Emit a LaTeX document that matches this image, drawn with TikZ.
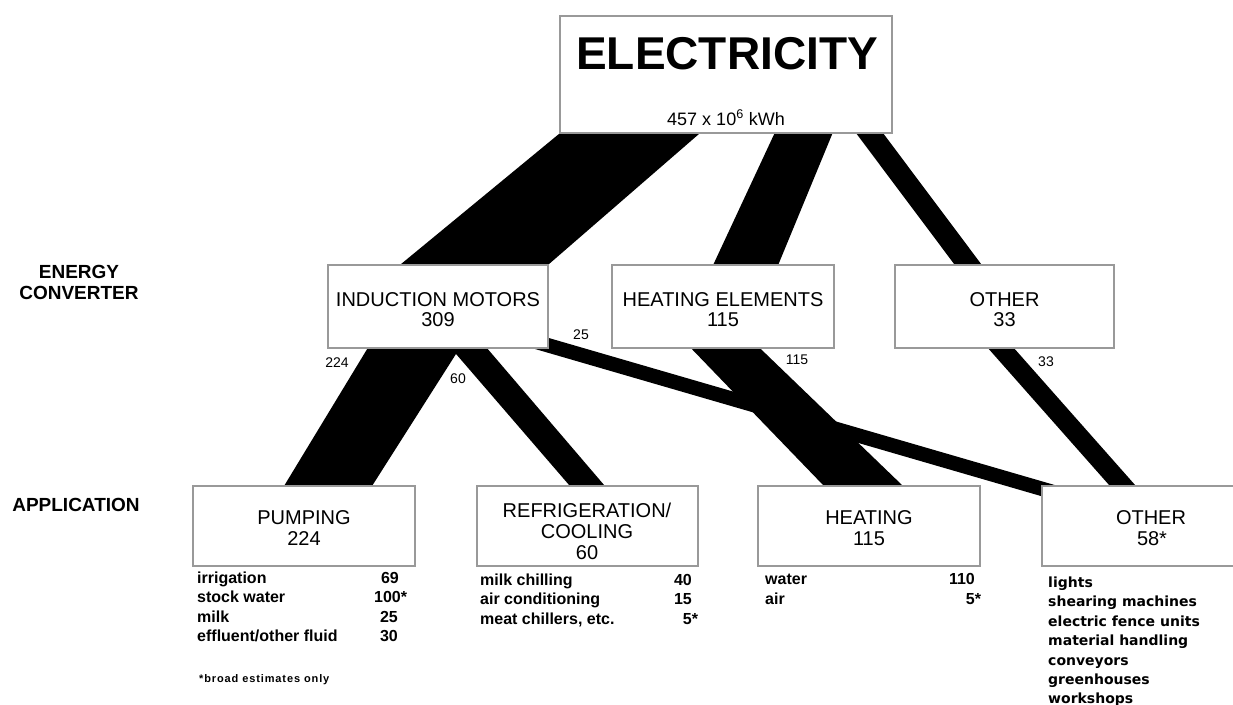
\documentclass[tikz,border=0pt]{standalone}
\usepackage{fontspec}
\setmainfont{Liberation Sans}
\newfontfamily\dvfont{DejaVu Sans}
\newfontfamily\ftfont[LetterSpace=8]{Liberation Sans}
\usetikzlibrary{calc,backgrounds}
\begin{document}
\begin{tikzpicture}[x=1pt,y=-1pt,
 box/.style={draw=black!40,line width=1.2pt,fill=white,inner sep=0pt},
 btxt/.style={font=\fontsize{20}{20}\selectfont,anchor=base,inner sep=0pt},
 hdr/.style={font=\fontsize{19}{19}\selectfont\bfseries,anchor=base,inner sep=0pt},
 flow/.style={font=\fontsize{14}{14}\selectfont,anchor=base,inner sep=0pt},
 item/.style={font=\fontsize{16}{16}\selectfont\bfseries,anchor=base west,inner sep=0pt},
 num/.style={font=\fontsize{16}{16}\selectfont\bfseries,anchor=base east,inner sep=0pt},
 oitem/.style={font=\dvfont\fontsize{14}{14}\selectfont\bfseries,anchor=base west,inner sep=0pt},
 band/.style={fill=black}]
\useasboundingbox (0,0) rectangle (1233,704);

% boxes
\node[box,minimum width=332pt,minimum height=117pt] (elec) at (726,74.5) {};
\node[box,minimum width=220pt,minimum height=83pt] (im) at (438,306.5) {};
\node[box,minimum width=222pt,minimum height=83pt] (he) at (723,306.5) {};
\node[box,minimum width=219pt,minimum height=83pt] (oc) at (1004.5,306.5) {};
\node[box,minimum width=222pt,minimum height=80pt] (pump) at (304,526) {};
\node[box,minimum width=221pt,minimum height=80pt] (refr) at (587.5,526) {};
\node[box,minimum width=222pt,minimum height=80pt] (heat) at (869,526) {};
\node[box,minimum width=216pt,minimum height=80pt] (oa) at (1150,526) {};

% box texts
\node[anchor=base,inner sep=0pt,font=\fontsize{46}{46}\selectfont\bfseries] (eltxt) at (727,69) {ELECTRICITY};
\node[anchor=base,inner sep=0pt,font=\fontsize{18}{18}\selectfont] (elval) at (726,125) {457 x 10\textsuperscript{6} kWh};
\node[btxt] (im1) at (438,306) {INDUCTION MOTORS};
\node[btxt] (im2) at (438,326) {309};
\node[btxt] (he1) at (723,306) {HEATING ELEMENTS};
\node[btxt] (he2) at (723,326) {115};
\node[btxt] (oc1) at (1004.5,306) {OTHER};
\node[btxt] (oc2) at (1004.5,326) {33};
\node[btxt] (pu1) at (304,524) {PUMPING};
\node[btxt] (pu2) at (304,545) {224};
\node[btxt] (re1) at (587,517) {REFRIGERATION/};
\node[btxt] (re2) at (587,538) {COOLING};
\node[btxt] (re3) at (587,559) {60};
\node[btxt] (ht1) at (869,524) {HEATING};
\node[btxt] (ht2) at (869,545) {115};
\node[btxt] (oa1) at (1151,524) {OTHER};
\node[btxt] (oa2) at (1152,545) {58*};

% row headers
\node[hdr] (h1) at (79,278) {ENERGY};
\node[hdr] (h2) at (79,299) {CONVERTER};
\node[hdr] (h3) at (76,511) {APPLICATION};

% flow labels
\node[flow] (f224) at (337,367) {224};
\node[flow] (f60) at (458,383) {60};
\node[flow] (f25) at (581,339) {25};
\node[flow] (f115) at (797,364) {115};
\node[flow] (f33) at (1046,366) {33};

% pumping list
\node[item] (p1) at (197,583) {irrigation};
\node[item] (p2) at (197,602.5) {stock water};
\node[item] (p3) at (197,622) {milk};
\node[item] (p4) at (197,641.5) {effluent/other fluid};
\node[num] (pn1) at (399,583) {69};
\node[num] (pn2) at (401,602.5) {100\rlap{*}};
\node[num] (pn3) at (398,622) {25};
\node[num] (pn4) at (398,641.5) {30};
\node[anchor=base west,inner sep=0pt,font=\ftfont\fontsize{11}{11}\selectfont\bfseries] (foot) at (199,682) {*broad estimates only};

% refrigeration list
\node[item] (r1) at (480,585) {milk chilling};
\node[item] (r2) at (480,604.5) {air conditioning};
\node[item] (r3) at (480,624) {meat chillers, etc.};
\node[num] (rn1) at (692,585) {40};
\node[num] (rn2) at (692,604.5) {15};
\node[num] (rn3) at (692,624) {5\rlap{*}};

% heating list
\node[item] (t1) at (765,584) {water};
\node[item] (t2) at (765,604) {air};
\node[num] (tn1) at (975,584) {110};
\node[num] (tn2) at (975,604) {5\rlap{*}};

% other list
\node[oitem] (o1) at (1048,587) {lights};
\node[oitem] (o2) at (1048,606.5) {shearing machines};
\node[oitem] (o3) at (1048,626) {electric fence units};
\node[oitem] (o4) at (1048,645.5) {material handling};
\node[oitem] (o5) at (1048,665) {conveyors};
\node[oitem] (o6) at (1048,684.5) {greenhouses};
\node[oitem] (o7) at (1048,703) {workshops};

\begin{scope}[on background layer]
\fill[white] (0,0) rectangle (1233,704);
% electricity -> converters
\fill[band] (elec.south west) -- ($(elec.south west)+(140,0)$) -- (im.north east) -- ($(im.north east)+(-148,0)$) -- cycle;
\fill[band] ($(elec.south west)+(215,0)$) -- ($(elec.south west)+(273,0)$) -- ($(he.north west)+(167,0)$) -- ($(he.north west)+(102,0)$) -- cycle;
\fill[band] ($(elec.south west)+(297,0)$) -- ($(elec.south west)+(324,0)$) -- ($(oc.north west)+(87,0)$) -- ($(oc.north west)+(60,0)$) -- cycle;
% converters -> applications
\fill[band] ($(im.south west)+(40,0)$) -- ($(im.south west)+(132,0)$) -- ($(pump.north west)+(180,0)$) -- ($(pump.north west)+(92,0)$) -- cycle;
\fill[band] ($(im.south west)+(124,0)$) -- ($(im.south west)+(160,0)$) -- ($(refr.north west)+(128,0)$) -- ($(refr.north west)+(93,0)$) -- cycle;
\fill[band] ($(he.south west)+(80,0)$) -- ($(he.south west)+(149,0)$) -- ($(heat.north west)+(145,0)$) -- ($(heat.north west)+(66,0)$) -- cycle;
\fill[band] ($(oc.south west)+(94,0)$) -- ($(oc.south west)+(120,0)$) -- ($(oa.north west)+(94,0)$) -- ($(oa.north west)+(68,0)$) -- cycle;
\fill[band] ($(im.south east)+(-28,-18.8)$) -- ($(oa.north west)+(28,3.9)$) -- ($(oa.north west)+(28,18.9)$) -- ($(im.south east)+(-28,-3.8)$) -- cycle;
\end{scope}
\end{tikzpicture}
\end{document}
